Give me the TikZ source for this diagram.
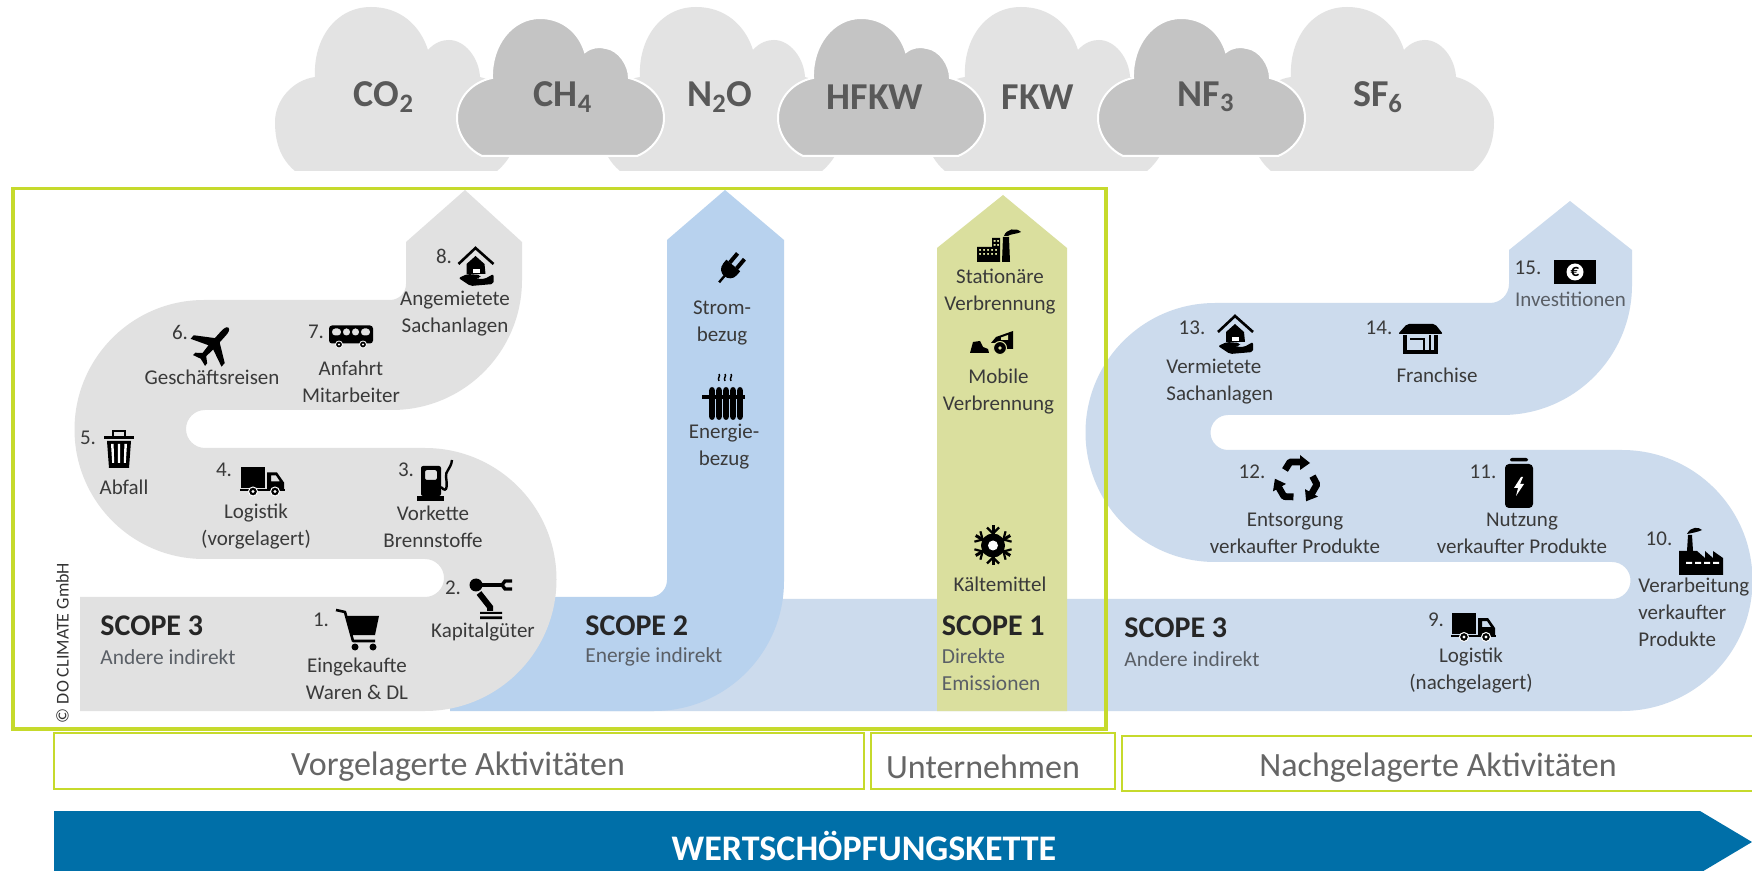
\documentclass[tikz,border=0pt]{standalone}
\usepackage{fontspec}
\setmainfont{Carlito}
\definecolor{greyband}{HTML}{E1E1E1}
\definecolor{lightblue}{HTML}{CCDBED}
\definecolor{midblue}{HTML}{B8D2EE}
\definecolor{olive}{HTML}{DADF9E}
\definecolor{frameg}{HTML}{C6DA2C}
\definecolor{cloudl}{HTML}{E3E3E3}
\definecolor{cloudd}{HTML}{C4C4C4}
\definecolor{chain}{HTML}{006FA8}
\definecolor{txt}{HTML}{3A3A3A}
\definecolor{soft}{HTML}{5A5F66}
\tikzset{
  lab/.style={inner sep=0pt,align=center,text=txt,font=\fontsize{10.5}{13.5}\selectfont},
  labl/.style={lab,align=left,anchor=west},
  num/.style={inner sep=0pt,text=txt,font=\fontsize{10.5}{13}\selectfont},
  scopehead/.style={inner sep=0pt,anchor=west,text=black!85,font=\fontsize{15}{17}\selectfont\bfseries},
  scopesub/.style={inner sep=0pt,anchor=west,align=left,text=soft,font=\fontsize{10.7}{13.5}\selectfont},
  gas/.style={inner sep=0pt,text=black!65,font=\fontsize{19}{21}\selectfont\bfseries},
  strip/.style={draw=frameg,line width=1.3pt,fill=white},
  striptext/.style={inner sep=0pt,text=black!60,font=\fontsize{17}{20}\selectfont}
}
\newcommand\placeat[2]{\begin{scope}[shift={(#1)}]#2\end{scope}}
\newcommand\cloudlight{%
    \fill[cloudl] (0,122) .. controls (0,100) and (18,80) .. (40,77)
      .. controls (38,40) and (60,7) .. (96,7) .. controls (125,7) and (145,25) .. (153,50)
      .. controls (160,42) and (168,40) .. (174,40) .. controls (190,40) and (204,58) .. (205,77)
      .. controls (225,82) and (243,100) .. (243,122) .. controls (243,145) and (235,160) .. (222,171)
      -- (20,171) .. controls (7,160) and (0,145) .. (0,122) -- cycle;}
\newcommand\clouddark{%
    \fill[cloudd,draw=white,line width=1pt] (0,118) .. controls (0,98) and (15,82) .. (35,78)
      .. controls (34,45) and (55,18) .. (83,18) .. controls (105,18) and (122,32) .. (128,52)
      .. controls (134,47) and (142,46) .. (149,48) .. controls (162,50) and (172,65) .. (172,78)
      .. controls (192,83) and (207,98) .. (207,118) .. controls (207,135) and (195,150) .. (180,156)
      -- (25,156) .. controls (12,150) and (0,135) .. (0,118) -- cycle;}
\newcommand\carticon{%
    \draw[line width=1.3pt,line join=round] (-22,-19) -- (-13,-17) -- (-5,12) -- (17,12);
    \fill (-12,-13) -- (21,-13) -- (17,6) -- (-7,6) -- cycle;
    \fill (-3,18) circle[radius=3.5] (15,18) circle[radius=3.5];}
\newcommand\roboticon{%
    \fill (-10,17) rectangle (12,19) (-10,21.5) rectangle (12,24);
    \draw[line width=3pt] (-11,-2) -- (0,12) -- (0,16);
    \draw[line width=2.2pt] (-14,-10) -- (13,-10);
    \fill (-14,-10) circle[radius=6.5];
    \draw[line width=1.7pt] (22,-14) -- (15,-14) -- (12,-10) -- (15,-6) -- (22,-6);}
\newcommand\pumpicon{%
    \fill[rounded corners=1pt,even odd rule] (-13,-15) rectangle (7,15) (-9,-11) rectangle (3,-1);
    \fill (-17,15) rectangle (10,20);
    \draw[line width=1.2pt] (7,6) .. controls (14,14) and (13,2) .. (12,-4) .. controls (11,-10) and (17,-12) .. (18,-21);}
\newcommand\truckicon{%
    \fill (-21,-14) rectangle (3,7);
    \fill[even odd rule] (5,-9) -- (15,-9) -- (22,1) -- (22,8) -- (5,8) -- cycle (9,-6) -- (14,-6) -- (18,0) -- (9,0) -- cycle;
    \fill (-22,8) rectangle (23,10);
    \fill[draw=white,line width=.5pt] (-9,10) circle[radius=4.5] (13,10) circle[radius=4.5];
    \fill[white] (-9,10) circle[radius=1.7] (13,10) circle[radius=1.7];}
\newcommand\trashicon{%
    \fill (-15,-12) rectangle (15,-9);
    \draw[line width=.9pt] (-6,-12) -- (-6,-17) -- (6,-17) -- (6,-12);
    \fill (-12,-7) -- (12,-7) -- (10,20) -- (-10,20) -- cycle;
    \fill[white] (-8,-4) -- (-5.4,-4) -- (-4.8,15) -- (-6.8,15) -- cycle
                 (-1.1,-4) -- (1.1,-4) -- (1,15) -- (-1,15) -- cycle
                 (5.4,-4) -- (8,-4) -- (6.8,15) -- (4.8,15) -- cycle;}
\newcommand\planeicon{%
    \fill[rotate=-42,scale=.8,line join=round] (0,-29) .. controls (3,-29) and (4,-24) .. (4,-20) -- (4,-8) -- (26,7) -- (26,13) -- (4,4) -- (3,16) -- (10,22) -- (10,26) -- (0,23) -- (-10,26) -- (-10,22) -- (-3,16) -- (-4,4) -- (-26,13) -- (-26,7) -- (-4,-8) -- (-4,-20) .. controls (-4,-24) and (-3,-29) .. (0,-29) -- cycle;}
\newcommand\busicon{%
    \fill[rounded corners=1.5pt,even odd rule] (-22,-11) rectangle (22,7)
      (-19,-8) rectangle (-10,-1) (-8,-8) rectangle (-1,-1) (1,-8) rectangle (8,-1) (10,-8) rectangle (19,-1);
    \fill[draw=white,line width=.4pt] (-12,8) circle[radius=3.5] (12,8) circle[radius=3.5];
    \fill[white] (-12,8) circle[radius=1.2] (12,8) circle[radius=1.2];}
\newcommand\houseicon{%
    \draw[line width=1.3pt] (-18,-3) -- (-1,-19) -- (17,-3);
    \fill (-10,-3) -- (-1,-11) -- (8,-3) -- (9,7) -- (-10,7) -- cycle;
    \fill[white] (-4,2) rectangle (3,6);
    \fill[rounded corners=1pt] (-18,11) -- (-9,7) -- (4,8) -- (4,11) -- (-3,12) -- (8,12) -- (17,7) -- (17,17) -- (-6,19) -- cycle;}
\newcommand\plugicon{%
    \begin{scope}[rotate=-40]
      \fill (-9,-2) -- (9,-2) -- (9,3) .. controls (9,9) and (4,12) .. (0,12) .. controls (-4,12) and (-9,9) .. (-9,3) -- cycle;
      \fill (-6.5,-14) rectangle (-2.5,-2) (2.5,-14) rectangle (6.5,-2);
      \draw[line width=1.2pt] (0,11) -- (0,20);
    \end{scope}}
\newcommand\radiatoricon{%
    \foreach \cx in {-12,-5,2,9,16} {\fill[rounded corners=1.5pt] (\cx-2.8,-9) rectangle (\cx+2.8,24);}
    \fill (-22,-1) rectangle (21,3);
    \foreach \cx in {-5,1,7} {\draw[line width=.7pt] (\cx,-22) .. controls (\cx+2,-20) and (\cx-2,-18) .. (\cx,-15);}}
\newcommand\plantaicon{%
    \fill[even odd rule] (-21,0) -- (-6,0) -- (-6,-9) -- (2,-9) -- (2,15) -- (-21,15) -- cycle
      (-19,2) rectangle (-17,4) (-15,2) rectangle (-13,4) (-11,2) rectangle (-9,4) (-7,2) rectangle (-5,4) (-3,2) rectangle (-1,4)
      (-19,6) rectangle (-17,8) (-15,6) rectangle (-13,8) (-11,6) rectangle (-9,8) (-7,6) rectangle (-5,8) (-3,6) rectangle (-1,8)
      (-4.5,-7) rectangle (-2.5,-5) (-1,-7) rectangle (1,-5) (-4.5,-3) rectangle (-2.5,-1) (-1,-3) rectangle (1,-1);
    \fill (4,15) -- (12,15) -- (11,-10) -- (5,-10) -- cycle;
    \fill (6,-11) .. controls (8,-18) and (18,-20) .. (23,-15) .. controls (19,-13) and (12,-13) .. (10,-11) -- cycle;}
\newcommand\loadericon{%
    \fill (-22,11) -- (-19,0) -- (-12,-1) -- (-9,5) -- (-4,7) -- (-3,11) -- cycle;
    \fill (-1,1) -- (4,-5) -- (21,-11) -- (21,7) -- (12,7) -- (8,1) -- cycle;
    \fill[draw=olive,line width=.5pt] (8,6) circle[radius=6.5];
    \fill[olive] (8,6) circle[radius=1.8];
    \fill[olive] (9,-4.5) -- (16,-7) -- (16,-2) -- (9,-2) -- cycle;}
\newcommand\snowicon{%
    \foreach \a in {0,60,...,300} {
      \begin{scope}[rotate=\a]
        \draw[line width=1.5pt] (0,0) -- (0,-20);
        \draw[line width=1.1pt] (-6,-18) -- (0,-12) -- (6,-18);
      \end{scope}
    }
    \fill (0,0) circle[radius=12];
    \fill[white] (0,0) circle[radius=5];}
\newcommand\recycleicon{%
    \foreach \a in {0,120,240} {
      \begin{scope}[rotate=\a]
        \draw[line width=3.4pt,line join=round] (-12,-11) -- (-7,-19) -- (4,-19);
        \fill (3,-26) -- (13,-18) -- (3,-11) -- cycle;
      \end{scope}
    }}
\newcommand\batteryicon{%
    \fill[rounded corners=1pt] (-9,-25) rectangle (9,-21.5);
    \fill[rounded corners=2pt] (-14,-19) rectangle (14,25);
    \fill[white] (2,-6) -- (-5,5) -- (-1,5) -- (-3,13) -- (5,1) -- (1,1) -- (4,-6) -- cycle;}
\newcommand\shopicon{%
    \fill[rounded corners=1pt] (-13,-14) -- (15,-14) -- (23,-4) -- (-22,-4) -- cycle;
    \draw[line width=1.8pt] (-15,-3) -- (-15,14) -- (16,14) -- (16,-3);
    \draw[line width=1.1pt] (-10,1) -- (4,1) -- (4,12);
    \draw[line width=1pt] (10,-3) -- (10,13);}
\newcommand\billicon{%
    \fill (-21,-12) rectangle (21,12);
    \fill[white] (0,0) circle[radius=8.5];
    \node[inner sep=0pt,text=black,font=\fontsize{8.5}{9}\selectfont\bfseries] (euro) at (0,0) {€};}
\newcommand\plantbicon{%
    \fill (-22,24) -- (-22,0) -- (-14,0) -- (-13,-16) -- (-9,-16) -- (-8,0) -- (-4,0) -- (4,7) -- (4,0) -- (12,7) -- (12,0) -- (22,7) -- (22,24) -- cycle;
    \fill[white] (-15,11) rectangle (-9,13) (-6,11) rectangle (0,13) (3,11) rectangle (9,13) (12,11) rectangle (18,13);
    \fill (-14,-17) .. controls (-10,-25) and (-2,-24) .. (1,-21) .. controls (-3,-19) and (-9,-18) .. (-14,-17) -- cycle;}
\begin{document}
\begin{tikzpicture}[x=0.5pt,y=-0.5pt]
\useasboundingbox (0,0) rectangle (1752,871);
\fill[white] (0,0) rectangle (1752,871);

% clouds
\placeat{275,0}{\cloudlight}
\placeat{600,0}{\cloudlight}
\placeat{925,0}{\cloudlight}
\placeat{1251,0}{\cloudlight}
\placeat{457,0}{\clouddark}
\placeat{778,0}{\clouddark}
\placeat{1098,0}{\clouddark}
\node[gas] (co2) at (384,97) {CO\textsubscript{2}};
\node[gas] (ch4) at (563,97) {CH\textsubscript{4}};
\node[gas] (n2o) at (720,97) {N\textsubscript{2}O};
\node[gas] (hfkw) at (875,97) {HFKW};
\node[gas] (fkw) at (1038,97) {FKW};
\node[gas] (nf3) at (1206,97) {NF\textsubscript{3}};
\node[gas] (sf6) at (1378,97) {SF\textsubscript{6}};

% bands
\fill[lightblue] (600,599) -- (1612,599) arc[start angle=90,end angle=-90,radius=18.5]
  -- (1215,562) arc[start angle=90,end angle=270,radius=129.5]
  -- (1490,303) arc[start angle=90,end angle=0,radius=19]
  -- (1509,250) -- (1570,201) -- (1632,250) -- (1632,285)
  arc[start angle=0,end angle=90,radius=130]
  -- (1228,415) arc[start angle=270,end angle=90,radius=17.5]
  -- (1622,450) arc[start angle=-90,end angle=90,radius=130.5]
  -- (600,711) -- cycle;
\fill[midblue] (450,597) -- (650,597) arc[start angle=90,end angle=0,radius=17]
  -- (667,240) -- (725,190) -- (784,240) -- (784,581)
  arc[start angle=0,end angle=90,radius=130] -- (450,711) -- cycle;
\fill[olive] (937,711) -- (937,248) -- (1003,195) -- (1067,248) -- (1067,711) -- cycle;
\fill[greyband] (80,597) -- (425,597) arc[start angle=90,end angle=-90,radius=19]
  -- (204,559) arc[start angle=90,end angle=270,radius=129.5]
  -- (390,300) arc[start angle=90,end angle=0,radius=16]
  -- (406,242) -- (465,190) -- (522,242) -- (522,280)
  arc[start angle=0,end angle=90,radius=130]
  -- (205,410) arc[start angle=270,end angle=90,radius=19]
  -- (425,448) arc[start angle=-90,end angle=90,radius=131.5]
  -- (80,711) -- cycle;

% frame
\draw[frameg,line width=1.8pt] (13,188.5) rectangle (1106,729);

% strips
\node[strip,minimum width=405pt,minimum height=28pt,inner sep=0pt] (vor) at (459,761) {};
\node[strip,minimum width=122pt,minimum height=28pt,inner sep=0pt] (unt) at (993,761) {};
\draw[frameg,line width=1.3pt] (1752,736) -- (1122,736) -- (1122,791) -- (1752,791);
\node[striptext] (vortext) at (458,767) {Vorgelagerte Aktivitäten};
\node[striptext] (unttext) at (983,767) {Unternehmen};
\node[striptext] (nachtext) at (1438,768) {Nachgelagerte Aktivitäten};

% chain arrow
\fill[chain] (54,811) -- (1700,811) -- (1752,842) -- (1700,873) -- (54,873) -- cycle;
\node[inner sep=0pt,text=white,font=\fontsize{18}{20}\selectfont\bfseries] (chaintext) at (864,846) {WERTSCHÖPFUNGSKETTE};

% copyright
\node[inner sep=0pt,rotate=90,text=black!80,font=\fontsize{9}{10}\selectfont] (copy) at (62.5,643) {© DO CLIMATE GmbH};

% scope heads
\node[scopehead] (s3l) at (100,626) {SCOPE 3};
\node[scopesub] (s3ls) at (100,657) {Andere indirekt};
\node[scopehead] (s2) at (585,626) {SCOPE 2};
\node[scopesub] (s2s) at (585,657) {Energie indirekt};
\node[scopehead] (s1) at (941.5,626) {SCOPE 1};
\node[scopesub,anchor=north west] (s1s) at (941.5,648) {Direkte\\Emissionen};
\node[scopehead] (s3r) at (1124,628) {SCOPE 3};
\node[scopesub] (s3rs) at (1124,659) {Andere indirekt};

% left S
\node[num] (n1) at (321,620) {1.};
\placeat{358,629}{\carticon}
\node[lab] (l1) at (357,678.5) {Eingekaufte\\Waren \& DL};
\node[num] (n2) at (453,588) {2.};
\placeat{490,595}{\roboticon}
\node[lab] (l2) at (483,632) {Kapitalgüter};
\node[num] (n3) at (406,470) {3.};
\placeat{434,481}{\pumpicon}
\node[lab] (l3) at (433,526.5) {Vorkette\\Brennstoffe};
\node[num] (n4) at (224,470) {4.};
\placeat{262,481.5}{\truckicon}
\node[lab] (l4) at (256,526.5) {Logistik\\(vorgelagert)};
\node[num] (n5) at (88,438) {5.};
\placeat{119,448}{\trashicon}
\node[lab] (l5) at (124,487) {Abfall};
\node[num] (n6) at (180,332) {6.};
\placeat{213,345}{\planeicon}
\node[lab] (l6) at (212,377) {Geschäftsreisen};
\node[num] (n7) at (316,332) {7.};
\placeat{351,336.5}{\busicon}
\node[lab] (l7) at (351,382) {Anfahrt\\Mitarbeiter};
\node[num] (n8) at (444,256) {8.};
\placeat{476.5,267}{\houseicon}
\node[lab] (l8) at (455,314) {Angemietete\\Sachanlagen};

% scope 2
\placeat{732,267}{\plugicon}
\node[lab] (st) at (722,322.5) {Strom-\\bezug};
\placeat{724,396}{\radiatoricon}
\node[lab] (en) at (724,447) {Energie-\\bezug};

% scope 1
\placeat{998,247}{\plantaicon}
\node[lab] (sv) at (1000,292) {Stationäre\\Verbrennung};
\placeat{992,342}{\loadericon}
\node[lab] (mv) at (998.5,392) {Mobile\\Verbrennung};
\placeat{993,545.5}{\snowicon}
\node[lab] (km) at (1000,584) {Kältemittel};

% right S
\node[num] (n9) at (1436,620) {9.};
\placeat{1473,627}{\truckicon}
\node[lab] (l9) at (1471,671) {Logistik\\(nachgelagert)};
\node[num] (n10) at (1659,539) {10.};
\placeat{1701,551}{\plantbicon}
\node[lab,align=left,anchor=west] (l10) at (1638,612) {Verarbeitung\\verkaufter\\Produkte};
\node[num] (n11) at (1483,471.5) {11.};
\placeat{1519,483}{\batteryicon}
\node[lab] (l11) at (1522,533) {Nutzung\\verkaufter Produkte};
\node[num] (n12) at (1252,471.5) {12.};
\placeat{1297,481}{\recycleicon}
\node[lab] (l12) at (1295,533) {Entsorgung\\verkaufter Produkte};
\node[num] (n13) at (1192,328) {13.};
\placeat{1236,335}{\houseicon}
\node[labl] (l13) at (1166,382) {Vermietete\\Sachanlagen};
\node[num] (n14) at (1379,328) {14.};
\placeat{1420,338}{\shopicon}
\node[lab] (l14) at (1437,375) {Franchise};
\node[num] (n15) at (1528,268) {15.};
\placeat{1575,272}{\billicon}
\node[lab,text=soft] (l15) at (1570.5,299.5) {Investitionen};
\end{tikzpicture}
\end{document}
